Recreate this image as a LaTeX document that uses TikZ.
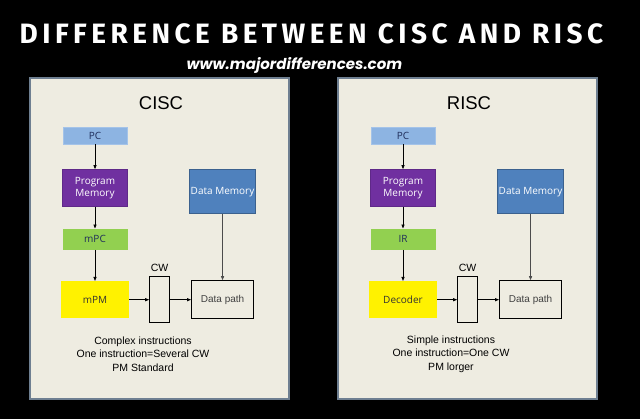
\documentclass[tikz,border=0pt]{standalone}
\usepackage{fontspec}
\setmainfont{Liberation Sans}
\newfontfamily\boxfont{Open Sans}
\newfontfamily\headfont[LetterSpace=16]{Fira Sans}
\newfontfamily\webfont{Poppins}
\usetikzlibrary{arrows.meta,positioning}

\definecolor{panelbg}{HTML}{EEECE1}
\definecolor{panelline}{HTML}{6E7F91}
\definecolor{pcblue}{HTML}{8DB4E2}
\definecolor{pmpurple}{HTML}{7030A0}
\definecolor{dmblue}{HTML}{4F81BD}
\definecolor{mpcgreen}{HTML}{92D050}
\definecolor{navytext}{HTML}{1F2D5A}

\begin{document}
\begin{tikzpicture}[
x=1pt, y=-1pt,
panel/.style={draw=panelline, line width=1.5pt, fill=panelbg},
box/.style={
    inner sep=1pt,
    align=center,
    font=\boxfont\fontsize{10}{11.5}\selectfont
},
plain/.style={
    draw=black,
    line width=0.9pt,
    fill=panelbg,
    inner sep=1pt,
    font=\fontsize{10}{12}\selectfont,
    text=black!75
},
arrow/.style={-{Triangle[length=4pt,width=3pt]}, line width=0.8pt}
]

% background and page size
\fill[black] (0,0) rectangle (640,419);
\useasboundingbox (0,0) rectangle (640,419);

\node[text=white, font=\headfont\bfseries\fontsize{28}{31}\selectfont] (title) at (311.5,33.5) {DIFFERENCE BETWEEN CISC AND RISC};
\node[text=white, font=\webfont\bfseries\itshape\fontsize{15}{17}\selectfont] (web) at (294.5,65) {www.majordifferences.com};

\foreach \i/\dx/\ttl/\midtxt/\lowtxt/\notes in {
    0/0/CISC/mPC/mPM/{Complex instructions\\One instruction=Several CW\\PM Standard},
    1/308/RISC/IR/Decoder/{Simple instructions\\One instruction=One CW\\PM lorger}}
{
\begin{scope}[xshift=\dx pt]
\draw[panel] (30,78) rectangle (289,399);
\node[font=\fontsize{18.5}{20}\selectfont] (head\i) at (161,103) {\ttl};

\node[box, fill=pcblue, draw=pcblue!80!white, minimum width=64pt, minimum height=17pt, text=navytext] (pc\i) at (95,135.5) {PC};
\node[box, fill=pmpurple, draw=pmpurple!85!black, minimum width=65pt, minimum height=37pt, text=white, below=25pt of pc\i] (pm\i) {Program\\Memory};
\node[box, fill=mpcgreen, minimum width=65pt, minimum height=21pt, text=navytext, below=22pt of pm\i] (mpc\i) {\midtxt};
\node[box, fill=yellow, minimum width=68pt, minimum height=37pt, text=black!80, below=31pt of mpc\i] (mpm\i) {\lowtxt};
\node[plain, minimum width=20pt, minimum height=46pt, right=20pt of mpm\i] (cw\i) {};
\node[plain, minimum width=62pt, minimum height=38pt, right=21pt of cw\i] (dp\i) {Data path};
\node[box, fill=dmblue, draw=dmblue!75!black, line width=0.8pt, minimum width=64pt, minimum height=44pt, text=white, above=66pt of dp\i] (dm\i) {Data Memory};
\node[font=\fontsize{10.5}{12}\selectfont, inner sep=1pt, above=3pt of cw\i] (cwlabel\i) {CW};
\node[font=\fontsize{10.5}{13.5}\selectfont, align=center] (notes\i) at (143,354) {\notes};

\draw[arrow] (pc\i) -- (pm\i);
\draw[arrow] (pm\i) -- (mpc\i);
\draw[arrow] (mpc\i) -- (mpm\i);
\draw[arrow] (mpm\i) -- (cw\i);
\draw[arrow] (cw\i) -- (dp\i);
\draw[arrow, black!70] (dm\i) -- (dp\i);
\end{scope}
}

\end{tikzpicture}
\end{document}
